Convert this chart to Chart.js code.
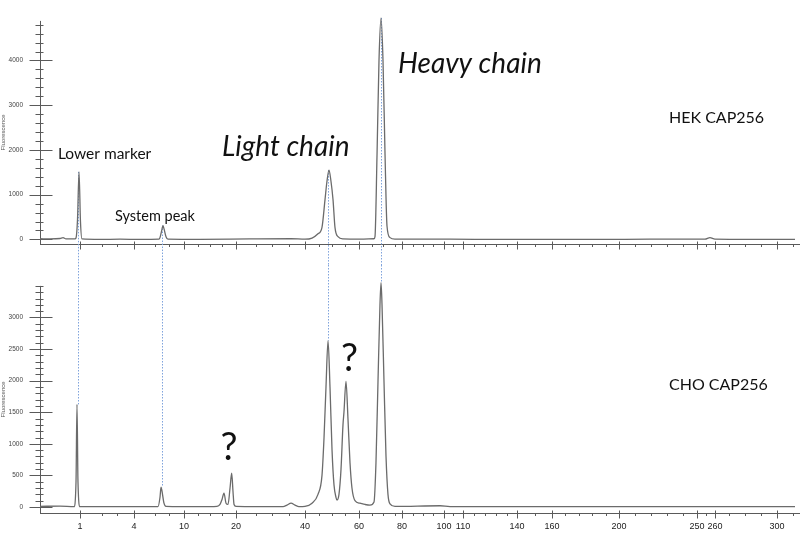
<!DOCTYPE html>
<html>
<head>
<meta charset="utf-8">
<script src="https://cdn.jsdelivr.net/npm/chart.js@4.4.1/dist/chart.umd.min.js"></script>
<style>
    html, body { margin: 0; padding: 0; background: #fff; }
    #wrap { position: relative; width: 800px; height: 535px; }
    #wrap canvas { position: absolute; left: 0; }
    #hek-chart { top: 0; }
    #cho-chart { top: 265px; }
</style>
</head>
<body>
<div id="wrap">
    <canvas id="hek-chart" width="800" height="265"></canvas>
    <canvas id="cho-chart" width="800" height="270"></canvas>
</div>
<script>
// x is migration time (arbitrary units); size labels sit at ladder positions
const sizeTickPositions = [5.30, 12.45, 19.07, 25.96, 35.10, 42.25, 47.95, 53.51, 56.03, 63.18, 67.81, 76.69, 87.02, 89.40, 97.62];
const sizeTickLabels = ['1', '4', '10', '20', '40', '60', '80', '100', '110', '140', '160', '200', '250', '260', '300'];
const sizeMinorTicks = [8.21, 10.20, 15.23, 17.09, 20.93, 22.52, 24.11, 28.61, 30.73, 32.98, 36.95, 38.68, 40.40,
    43.97, 45.43, 47.02, 49.40, 50.73, 52.05, 54.70, 57.48, 58.94, 60.40, 61.85, 65.56, 69.54, 71.39, 73.11, 74.97,
    78.81, 80.93, 83.05, 85.17, 88.21, 91.26, 93.38, 95.50, 99.74];

const hekYTicks = [0, 1000, 2000, 3000, 4000];
const choYTicks = [0, 500, 1000, 1500, 2000, 2500, 3000];

const hekTime = [
    0.00, 1.32, 2.65, 3.05, 3.44, 4.64, 4.77, 4.97, 5.17, 5.36,
    5.56, 7.95, 10.60, 13.25, 15.76, 15.89, 16.16, 16.29, 16.42, 16.69,
    16.95, 21.19, 27.81, 33.25, 35.10, 36.03, 36.82, 37.35, 37.75, 38.01,
    38.28, 38.54, 38.81, 39.07, 39.47, 40.13, 42.38, 44.24, 44.37, 44.64,
    44.90, 45.17, 45.43, 45.70, 45.96, 46.36, 47.02, 54.30, 60.93, 74.17,
    80.79, 88.08, 88.74, 89.40, 94.04, 100.0
];
const hekSignal = [
    15, 10, 20, 40, 10, 10, 30, 450, 1510, 400,
    10, 0, 5, 0, 5, 40, 230, 310, 240, 60,
    5, 0, 10, 15, 5, 30, 125, 270, 890, 1300,
    1550, 1300, 890, 270, 60, 10, 5, 15, 60, 1900,
    4000, 4950, 4000, 1900, 300, 40, 5, 5, 0, 0,
    5, 5, 40, 5, 0, 0
];

const choTime = [
    0.00, 2.65, 4.50, 4.77, 4.90, 5.03, 5.30, 7.95, 13.25, 15.63,
    15.89, 16.03, 16.16, 16.42, 16.69, 21.19, 23.44, 23.84, 24.11, 24.37,
    24.64, 24.90, 25.17, 25.39, 25.56, 25.70, 25.96, 32.19, 32.72, 33.25,
    33.77, 34.30, 35.10, 36.03, 36.82, 37.35, 37.62, 37.88, 38.15, 38.41,
    38.68, 38.94, 39.21, 39.34, 39.60, 39.87, 40.13, 40.26, 40.53, 40.79,
    41.06, 41.32, 41.72, 42.38, 43.05, 43.71, 44.24, 44.50, 44.77, 45.03,
    45.17, 45.30, 45.56, 45.83, 46.09, 46.36, 47.02, 53.00, 54.30, 60.93,
    74.17, 100.0
];
const choSignal = [
    10, 15, 5, 400, 1625, 400, 5, 5, 5, 5,
    150, 315, 250, 60, 10, 5, 10, 40, 120, 220,
    60, 40, 300, 535, 250, 40, 10, 5, 30, 60,
    30, 5, 10, 60, 200, 500, 1100, 1900, 2635, 1900,
    900, 350, 150, 110, 200, 600, 1300, 1500, 1990, 1400,
    700, 300, 100, 60, 40, 30, 80, 700, 2000, 3200,
    3550, 3200, 2000, 800, 200, 50, 10, 20, 5, 5,
    5, 5
];

// peaks joined by the dotted guide lines between the two traces
const linkedPeaks = [5.05, 16.15, 38.2, 45.17];

const axesPlugin = {
    id: 'traceAxes',
    beforeDatasetsDraw(chart, args, opts) {
        const { ctx, chartArea: a, scales: { x, y } } = chart;
        const ax = Math.round(a.left) + 0.5;
        const by = Math.round(a.bottom) + 0.5;
        ctx.save();
        ctx.strokeStyle = '#5a5a5a';
        ctx.lineWidth = 1;
        ctx.beginPath();
        ctx.moveTo(ax, a.top);
        ctx.lineTo(ax, by);
        ctx.moveTo(a.left, by);
        ctx.lineTo(chart.width, by);
        for (let v = 0; v <= y.max; v += opts.minorStep) {
            const py = Math.round(y.getPixelForValue(v)) + 0.5;
            const major = opts.majorTicks.includes(v);
            ctx.moveTo(ax - (major ? 11 : 5), py);
            ctx.lineTo(ax + (major ? 12 : 3), py);
        }
        sizeTickPositions.forEach(t => {
            const px = Math.round(x.getPixelForValue(t)) + 0.5;
            ctx.moveTo(px, by - 3);
            ctx.lineTo(px, by + 5);
        });
        sizeMinorTicks.forEach(t => {
            const px = Math.round(x.getPixelForValue(t)) + 0.5;
            ctx.moveTo(px, by);
            ctx.lineTo(px, by + 2.5);
        });
        ctx.stroke();

        // dotted guides
        const pts = chart.data.datasets[0].data;
        ctx.strokeStyle = '#7fa3dc';
        ctx.setLineDash([1.5, 1.5]);
        ctx.beginPath();
        linkedPeaks.forEach(t => {
            const peak = pts.filter(p => Math.abs(p.x - t) < 0.4).reduce((m, p) => (p.y > m.y ? p : m));
            const px = Math.round(x.getPixelForValue(t)) + 0.5;
            const py = y.getPixelForValue(peak.y);
            if (opts.guide === 'down') {
                ctx.moveTo(px, py);
                ctx.lineTo(px, chart.height);
            } else {
                ctx.moveTo(px, 0);
                ctx.lineTo(px, py);
            }
        });
        ctx.stroke();
        ctx.restore();
    },
    afterDatasetsDraw(chart, args, opts) {
        const { ctx, scales: { x, y } } = chart;
        ctx.save();
        ctx.fillStyle = '#111';
        ctx.textBaseline = 'alphabetic';
        opts.notes.forEach(n => {
            ctx.font = n.font;
            ctx.textAlign = n.align || 'left';
            ctx.fillText(n.text, x.getPixelForValue(n.x), y.getPixelForValue(n.y));
        });
        ctx.restore();
    }
};

class CapillaryTraces {
    constructor() {
        this.init();
    }

    init() {
        this.renderPanel('hek-chart', {
            time: hekTime, signal: hekSignal, yTicks: hekYTicks,
            yMin: -105, yMax: 4885, minorStep: 200,
            padTop: 7, xHeight: 17, showSizes: false, guide: 'down',
            notes: [
                { text: 'Lower marker', x: 2.38, y: 1800, font: '15.5px Lato' },
                { text: 'System peak', x: 9.93, y: 414, font: '14.5px Lato' },
                { text: 'Light chain', x: 24.11, y: 1863, font: 'italic 28px Lato' },
                { text: 'Heavy chain', x: 47.42, y: 3727, font: 'italic 28px Lato' },
                { text: 'HEK CAP256', x: 83.31, y: 2598, font: '16px Lato' }
            ]
        });
        this.renderPanel('cho-chart', {
            time: choTime, signal: choSignal, yTicks: choYTicks,
            yMin: -95, yMax: 3500, minorStep: 100,
            padTop: 20, xHeight: 22, showSizes: true, guide: 'up',
            notes: [
                { text: 'CHO CAP256', x: 83.31, y: 1853, font: '16px Lato' },
                { text: '?', x: 25.03, y: 741, font: '38px Lato', align: 'center' },
                { text: '?', x: 40.99, y: 2145, font: '38px Lato', align: 'center' }
            ]
        });
    }

    renderPanel(canvasId, panel) {
        const ctx = document.getElementById(canvasId).getContext('2d');
        new Chart(ctx, {
            type: 'line',
            data: {
                datasets: [{
                    data: panel.time.map((t, i) => ({ x: t, y: panel.signal[i] })),
                    borderColor: '#6b6b6b',
                    borderWidth: 1.3,
                    pointRadius: 0,
                    cubicInterpolationMode: 'monotone',
                    clip: false
                }]
            },
            options: {
                responsive: false,
                animation: false,
                devicePixelRatio: 1,
                layout: { padding: { top: panel.padTop, right: 5, left: 0, bottom: 0 } },
                plugins: {
                    legend: { display: false },
                    tooltip: { enabled: false },
                    traceAxes: {
                        minorStep: panel.minorStep,
                        majorTicks: panel.yTicks,
                        guide: panel.guide,
                        notes: panel.notes
                    }
                },
                scales: {
                    x: {
                        type: 'linear',
                        min: 0,
                        max: 100,
                        grid: { display: false, drawTicks: false },
                        border: { display: false },
                        afterBuildTicks: s => { s.ticks = sizeTickPositions.map(v => ({ value: v })); },
                        afterFit: s => { s.height = panel.xHeight; },
                        ticks: {
                            display: panel.showSizes,
                            autoSkip: false,
                            maxRotation: 0,
                            padding: 8,
                            color: '#222',
                            font: { family: 'Liberation Sans', size: 9 },
                            callback: (v, i) => sizeTickLabels[i]
                        }
                    },
                    y: {
                        type: 'linear',
                        min: panel.yMin,
                        max: panel.yMax,
                        grid: { display: false, drawTicks: false },
                        border: { display: false },
                        afterBuildTicks: s => { s.ticks = panel.yTicks.map(v => ({ value: v })); },
                        afterFit: s => { s.width = 40; },
                        title: {
                            display: true,
                            text: 'Fluorescence',
                            color: '#555',
                            padding: 0,
                            font: { family: 'Liberation Sans', size: 6 }
                        },
                        ticks: {
                            padding: 17,
                            color: '#444',
                            font: { family: 'Liberation Sans', size: 6.5 },
                            callback: v => String(v)
                        }
                    }
                }
            },
            plugins: [axesPlugin]
        });
    }
}

document.addEventListener('DOMContentLoaded', () => new CapillaryTraces());
</script>
</body>
</html>
